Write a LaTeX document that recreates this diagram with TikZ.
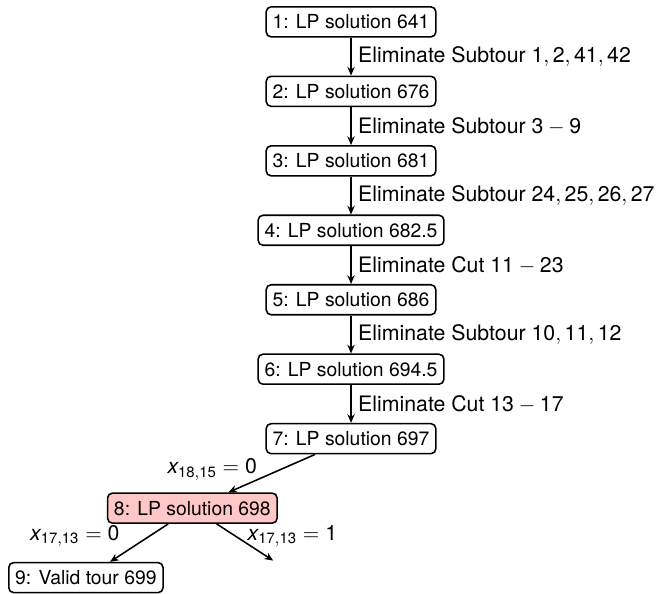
\documentclass[tikz,border=0pt]{standalone}
\usepackage{amsmath}
\usepackage{fontspec}
\setmainfont{TeX Gyre Heros}
\usetikzlibrary{arrows.meta, positioning, calc}

\begin{document}
\begin{tikzpicture}[
	node distance=19.6pt,
	lpbox/.style={rectangle, draw=black, thick, rounded corners=2.5pt, minimum height=15.5pt, font=\fontsize{10}{12}\selectfont},
	arrow/.style={-{Stealth[length=4.5pt, width=3.8pt]}, thick},
	edgelabel/.style={font=\fontsize{11}{13}\selectfont}
	]
	% LP relaxations
	\node[lpbox] (lp1) {1: LP solution 641};
	\node[lpbox, below=of lp1] (lp2) {2: LP solution 676};
	\node[lpbox, below=of lp2] (lp3) {3: LP solution 681};
	\node[lpbox, below=of lp3] (lp4) {4: LP solution 682.5};
	\node[lpbox, below=of lp4] (lp5) {5: LP solution 686};
	\node[lpbox, below=of lp5] (lp6) {6: LP solution 694.5};
	\node[lpbox, below=of lp6] (lp7) {7: LP solution 697};
	\node[lpbox, below=of lp7, xshift=-82pt, fill=red!22] (lp8) {8: LP solution 698};
	\node[lpbox, below=of lp8, xshift=-55pt] (tour) {9: Valid tour 699};
	\coordinate (open) at ($(lp8.center)+(41.8pt,-27.1pt)$);
	
	% Cuts
	\draw[arrow] (lp1) -- (lp2) node[midway, right, edgelabel] {Eliminate Subtour $\text{1}, \text{2}, \text{41}, \text{42}$};
	\draw[arrow] (lp2) -- (lp3) node[midway, right, edgelabel] {Eliminate Subtour $\text{3} - \text{9}$};
	\draw[arrow] (lp3) -- (lp4) node[midway, right, edgelabel] {Eliminate Subtour $\text{24}, \text{25}, \text{26}, \text{27}$};
	\draw[arrow] (lp4) -- (lp5) node[midway, right, edgelabel] {Eliminate Cut $\text{11} - \text{23}$};
	\draw[arrow] (lp5) -- (lp6) node[midway, right, edgelabel] {Eliminate Subtour $\text{10}, \text{11}, \text{12}$};
	\draw[arrow] (lp6) -- (lp7) node[midway, right, edgelabel] {Eliminate Cut $\text{13} - \text{17}$};
	
	% Branching
	\draw[arrow] (lp7) -- (lp8) node[midway, left, xshift=-3.9pt, yshift=2pt, edgelabel] {$\mathit{x}_{\text{18},\text{15}} = \text{0}$};
	\draw[arrow] (lp8) -- (tour) node[midway, left, xshift=-6.4pt, yshift=3.6pt, edgelabel] {$\mathit{x}_{\text{17},\text{13}} = \text{0}$};
	\draw[arrow] (lp8) -- (open) node[midway, right, xshift=-2.3pt, yshift=3.1pt, edgelabel] {$\mathit{x}_{\text{17},\text{13}} = \text{1}$};
	
	\useasboundingbox ($(lp1.center)+(-181.4pt,11.3pt)$) rectangle ($(lp1.center)+(159.3pt,-293.3pt)$);
\end{tikzpicture}
\end{document}
